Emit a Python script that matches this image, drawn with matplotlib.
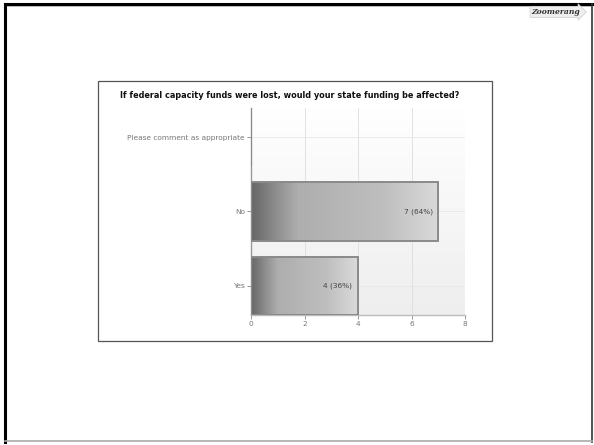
import matplotlib.pyplot as plt
import numpy as np
from matplotlib.lines import Line2D
from matplotlib.patches import Rectangle
from matplotlib.colors import LinearSegmentedColormap

categories = ['Yes', 'No', 'Please comment as appropriate']
counts = [4, 7, 0]
pct_labels = ['4 (36%)', '7 (64%)', '']
x_ticks = [0, 2, 4, 6, 8]
title = 'If federal capacity funds were lost, would your state funding be affected?'

W, H = 594, 445
fig = plt.figure(figsize=(W / 100, H / 100), dpi=100)


def px_line(x0, y0, x1, y1, color, lw):
    fig.add_artist(Line2D([x0 / W, x1 / W], [1 - y0 / H, 1 - y1 / H],
                          transform=fig.transFigure, color=color, lw=lw))


# slide frame
px_line(5, 4, 592, 4, 'black', 2.2)
px_line(5, 4, 5, 442, 'black', 2.2)
px_line(7, 6, 591, 6, '#bbbbbb', 0.7)
px_line(592, 4, 592, 442, '#333333', 1.2)
px_line(5, 441, 592, 441, '#aaaaaa', 1.2)

# chart box
fig.add_artist(Rectangle((98 / W, 1 - 341 / H), (492 - 98) / W, (341 - 81) / H,
                         transform=fig.transFigure, fill=False,
                         edgecolor='#555555', lw=0.9))
fig.text(290 / W, 1 - 95 / H, title, ha='center', va='center',
         fontsize=5.9, fontweight='bold', color='#111111')

# logo
fig.text(556 / W, 1 - 12 / H, 'Zoomerang', ha='center', va='center',
         fontsize=5.5, fontstyle='italic', fontweight='bold', color='#333333',
         family='DejaVu Serif',
         bbox=dict(boxstyle='rarrow,pad=0.2', fc='#eeeeee', ec='#cccccc', lw=0.5))

ax = fig.add_axes([251 / W, 1 - 315 / H, (465 - 251) / W, (315 - 108) / H])
ax.set_xlim(0, 8)
ax.set_ylim(-0.39, 2.39)

# plot background
bg = LinearSegmentedColormap.from_list('bg', ['#ffffff', '#eeeeee'])
ax.imshow(np.linspace(0, 1, 100).reshape(-1, 1), cmap=bg, aspect='auto',
          extent=[0, 8, -0.39, 2.39], origin='upper', zorder=0)
for xv in x_ticks[1:]:
    ax.axvline(xv, color='#dddddd', lw=0.6, zorder=1)
for yv in range(len(categories)):
    ax.axhline(yv, color='#e4e4e4', lw=0.5, zorder=1)

bar_cmap = LinearSegmentedColormap.from_list(
    'bar', [(0, '#666666'), (0.12, '#8a8a8a'), (0.25, '#aeaeae'),
            (0.7, '#bebebe'), (1.0, '#dadada')])
bar_h = 0.78
bars = ax.barh(range(len(categories)), counts, height=bar_h,
               color='none', edgecolor='#8a8a8a', lw=1.4, zorder=3)
for b, lab in zip(bars, pct_labels):
    w = b.get_width()
    if w <= 0:
        continue
    y0 = b.get_y()
    im = ax.imshow(np.linspace(0, 1, 256).reshape(1, -1), cmap=bar_cmap,
                   aspect='auto', extent=[0, w, y0, y0 + bar_h], zorder=2)
    im.set_clip_path(b)
    ax.annotate(lab, (w, y0 + bar_h / 2), xytext=(-4, 0),
                textcoords='offset points', ha='right', va='center',
                fontsize=5.3, color='#444444', zorder=4)

ax.set_yticks(range(len(categories)))
ax.set_yticklabels(categories)
ax.set_xticks(x_ticks)
ax.tick_params(axis='both', labelsize=5.3, colors='#888888', length=3, width=0.6,
               labelcolor='#777777', pad=1.5)
for s in ['top', 'right']:
    ax.spines[s].set_visible(False)
ax.spines['left'].set_color('#999999')
ax.spines['bottom'].set_color('#bbbbbb')
ax.spines['left'].set_linewidth(1.0)
ax.spines['bottom'].set_linewidth(1.0)

fig.savefig('out.png', dpi=100)
